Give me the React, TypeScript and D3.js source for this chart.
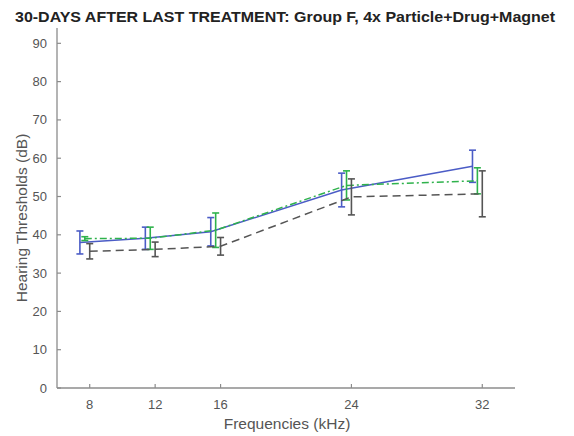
import React from "react";
import * as d3 from "d3";

// Test frequencies (kHz)
const freqs = [8, 12, 16, 24, 32];

// Mean hearing thresholds (dB) and error-bar half-widths for each trace
const blueMean = [38.0, 39.1, 40.8, 51.7, 57.9];
const blueErr = [3.0, 2.9, 3.7, 4.4, 4.2];
const greenMean = [39.0, 39.1, 41.2, 52.9, 54.1];
const greenErr = [0.5, 2.9, 4.5, 3.8, 3.4];
const blackMean = [35.7, 36.2, 37.0, 49.9, 50.7];
const blackErr = [2.0, 1.9, 2.3, 4.7, 6.0];

const yTicks = [0, 10, 20, 30, 40, 50, 60, 70, 80, 90];
const xTicks = freqs;

const title = "30-DAYS AFTER LAST TREATMENT: Group F, 4x Particle+Drug+Magnet";
const xLabel = "Frequencies (kHz)";
const yLabel = "Hearing Thresholds (dB)";

const W = 574;
const H = 436;
const FONT = "'Liberation Sans', Arial, Helvetica, sans-serif";
const AXIS = "#8c8c8c";
const TEXT = "#555555";

type Series = {
  mean: number[];
  err: number[];
  color: string;
  dash: string | undefined;
  shift: number; // horizontal shift in kHz so bars do not overlap
};

const series: Series[] = [
  { mean: blueMean, err: blueErr, color: "#4b5cc6", dash: undefined, shift: -0.6 },
  { mean: greenMean, err: greenErr, color: "#2fb24c", dash: "7 3 2 3", shift: -0.3 },
  { mean: blackMean, err: blackErr, color: "#555555", dash: "8 5", shift: 0 },
];

export default function App() {
  const x = d3.scaleLinear().domain([6, 34]).range([57, 515]);
  const y = d3.scaleLinear().domain([0, 94]).range([388, 28]);
  const cap = 3.5;

  return (
    <svg width={W} height={H} style={{ display: "block", position: "absolute", left: 0, top: 0, background: "#fff" }}>
      <rect width={W} height={H} fill="#fff" />
      <text
        x={15}
        y={22}
        textLength={540}
        lengthAdjust="spacingAndGlyphs"
        fontFamily={FONT}
        fontWeight="bold"
        fontSize={15}
        fill="#222"
      >
        {title}
      </text>

      {/* axes */}
      <line x1={x(6)} x2={x(6)} y1={y(94)} y2={y(0)} stroke={AXIS} strokeWidth={1.3} />
      <line x1={x(6)} x2={x(34)} y1={y(0)} y2={y(0)} stroke={AXIS} strokeWidth={1.3} />
      {yTicks.map((t) => (
        <g key={"y" + t}>
          <line x1={x(6)} x2={x(6) + 4} y1={y(t)} y2={y(t)} stroke={AXIS} strokeWidth={1.2} />
          <text x={47} y={y(t)} dy="0.35em" textAnchor="end" fontFamily={FONT} fontSize={13} fill={TEXT}>
            {t}
          </text>
        </g>
      ))}
      {xTicks.map((t) => (
        <g key={"x" + t}>
          <line x1={x(t)} x2={x(t)} y1={y(0)} y2={y(0) - 4} stroke={AXIS} strokeWidth={1.2} />
          <text x={x(t)} y={404} dy="0.35em" textAnchor="middle" fontFamily={FONT} fontSize={13} fill={TEXT}>
            {t}
          </text>
        </g>
      ))}
      <text x={287} y={424} dy="0.35em" textAnchor="middle" fontFamily={FONT} fontSize={15.5} fill={TEXT}>
        {xLabel}
      </text>
      <text
        transform={`translate(22,218) rotate(-90)`}
        dy="0.35em"
        textAnchor="middle"
        fontFamily={FONT}
        fontSize={15.5}
        fill={TEXT}
      >
        {yLabel}
      </text>

      {/* traces with error bars */}
      {series.map((s, si) => {
        const pts = freqs.map((f, i) => [x(f + s.shift), y(s.mean[i])] as [number, number]);
        const path = d3.line()(pts) || "";
        return (
          <g key={si}>
            <path d={path} fill="none" stroke={s.color} strokeWidth={1.5} strokeDasharray={s.dash} />
            {freqs.map((f, i) => {
              const cx = x(f + s.shift);
              const top = y(s.mean[i] + s.err[i]);
              const bot = y(s.mean[i] - s.err[i]);
              return (
                <g key={i} stroke={s.color} strokeWidth={1.6}>
                  <line x1={cx} x2={cx} y1={top} y2={bot} />
                  <line x1={cx - cap} x2={cx + cap} y1={top} y2={top} />
                  <line x1={cx - cap} x2={cx + cap} y1={bot} y2={bot} />
                </g>
              );
            })}
          </g>
        );
      })}
    </svg>
  );
}
